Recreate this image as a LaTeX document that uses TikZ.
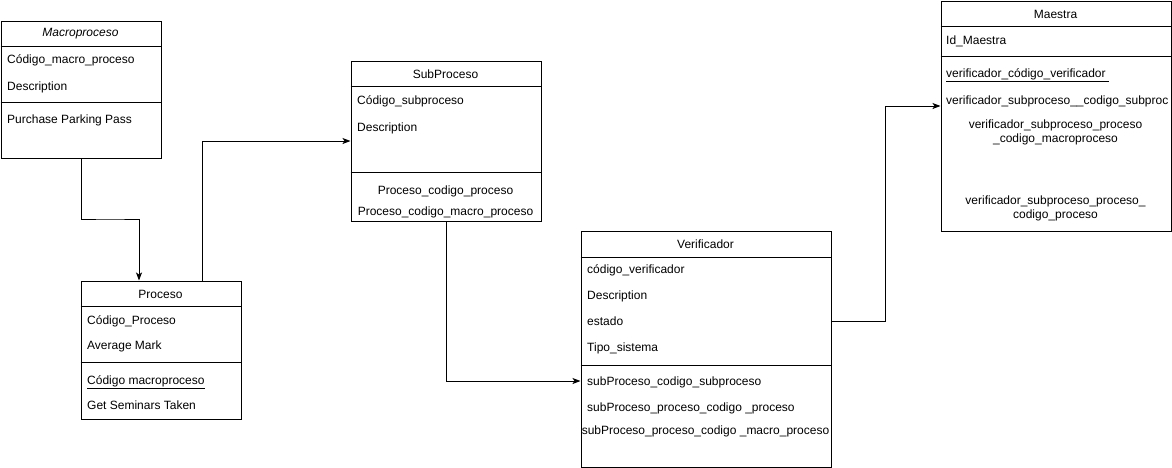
\documentclass[tikz,border=0pt]{standalone}
\usepackage{fontspec}
\setmainfont{Liberation Sans}
\usetikzlibrary{arrows.meta}

\tikzset{
	tabla/.style={draw, line width=1pt, anchor=north west, inner sep=0pt},
	campo/.style={anchor=west, inner sep=0pt, text height=11pt, text depth=2.5pt, font=\fontsize{12}{14}\selectfont},
	centrado/.style={inner sep=0pt, align=center, yshift=-1pt, font=\fontsize{12}{14}\selectfont},
	linea/.style={line width=1pt},
	flecha/.style={line width=1pt, -{Stealth[length=8pt,width=6pt,inset=2pt]}}
}

\begin{document}
\begin{tikzpicture}[x=1pt, y=-1pt]
	\useasboundingbox (0,0) rectangle (1172,467);
	
	% Macroproceso
	\node[tabla, minimum width=160pt, minimum height=137pt] (macro) at (0.5,20.5) {};
	\draw[linea] ([yshift=-26pt]macro.north west) -- ([yshift=-26pt]macro.north east);
	\draw[linea] ([yshift=-82pt]macro.north west) -- ([yshift=-82pt]macro.north east);
	\node[centrado] (macro-t) at (80.5,33) {\itshape Macroproceso};
	\node[campo] (macro-1) at (7,59) {Código\_macro\_proceso};
	\node[campo] (macro-2) at (7,86) {Description};
	\node[campo] (macro-3) at (7,119) {Purchase Parking Pass};
	
	% Proceso
	\node[tabla, minimum width=160pt, minimum height=138pt] (proc) at (80.5,280.5) {};
	\draw[linea] ([yshift=-26pt]proc.north west) -- ([yshift=-26pt]proc.north east);
	\draw[linea] ([yshift=-82pt]proc.north west) -- ([yshift=-82pt]proc.north east);
	\node[centrado] (proc-t) at (160.5,293) {Proceso};
	\node[campo] (proc-1) at (87,320) {Código\_Proceso};
	\node[campo] (proc-2) at (87,345) {Average Mark};
	\node[campo] (proc-3) at (87,380) {\underline{Código macroproceso}};
	\node[campo] (proc-4) at (87,405) {Get Seminars Taken};
	
	% SubProceso
	\node[tabla, minimum width=190pt, minimum height=160pt] (sub) at (350.5,60.5) {};
	\draw[linea] ([yshift=-26pt]sub.north west) -- ([yshift=-26pt]sub.north east);
	\draw[linea] ([yshift=-112pt]sub.north west) -- ([yshift=-112pt]sub.north east);
	\node[centrado] (sub-t) at (445.5,73) {SubProceso};
	\node[campo] (sub-1) at (357,100) {Código\_subproceso};
	\node[campo] (sub-2) at (357,127) {Description};
	\node[centrado] (sub-3) at (445.5,190) {Proceso\_codigo\_proceso};
	\node[centrado] (sub-4) at (445.5,211) {Proceso\_codigo\_macro\_proceso};
	
	% Verificador
	\node[tabla, minimum width=250pt, minimum height=236pt] (verif) at (580.5,230.5) {};
	\draw[linea] ([yshift=-27pt]verif.north west) -- ([yshift=-27pt]verif.north east);
	\draw[linea] ([yshift=-135pt]verif.north west) -- ([yshift=-135pt]verif.north east);
	\node[centrado] (verif-t) at (705.5,243) {Verificador};
	\node[campo] (verif-1) at (587,269) {código\_verificador};
	\node[campo] (verif-2) at (587,295) {Description};
	\node[campo] (verif-3) at (587,321) {estado};
	\node[campo] (verif-4) at (587,347) {Tipo\_sistema};
	\node[campo] (verif-5) at (587,381) {subProceso\_codigo\_subproceso};
	\node[campo] (verif-6) at (587,407) {subProceso\_proceso\_codigo \_proceso};
	\node[centrado] (verif-7) at (705.5,430) {subProceso\_proceso\_codigo \_macro\_proceso};
	
	% Maestra
	\node[tabla, minimum width=230pt, minimum height=230pt] (maestra) at (940.5,0.5) {};
	\draw[linea] ([yshift=-26pt]maestra.north west) -- ([yshift=-26pt]maestra.north east);
	\draw[linea] ([yshift=-56pt]maestra.north west) -- ([yshift=-56pt]maestra.north east);
	\node[centrado] (maestra-t) at (1055.5,13) {Maestra};
	\node[campo] (maestra-1) at (946,40) {Id\_Maestra};
	\node[campo] (maestra-2) at (946,73) {\underline{verificador\_código\_verificador\ }};
	\node[campo] (maestra-3) at (946,100) {verificador\_subproceso\_\_codigo\_subproc};
	\node[centrado] (maestra-4) at (1055.5,131) {verificador\_subproceso\_proceso\\\_codigo\_macroproceso};
	\node[centrado] (maestra-5) at (1055.5,207) {verificador\_subproceso\_proceso\_\\codigo\_proceso};
	
	% conexiones
	\draw[flecha] (macro.south) |- (110,219) -| ([xshift=-22pt]proc.north);
	\draw[flecha] ([xshift=41pt]proc.north) |- (sub.west);
	\draw[flecha] (sub.south) |- (verif.west |- verif-5);
	\draw[flecha] (verif.east |- verif-3) -| (885,200) |- ([yshift=10pt]maestra.west);
\end{tikzpicture}
\end{document}
